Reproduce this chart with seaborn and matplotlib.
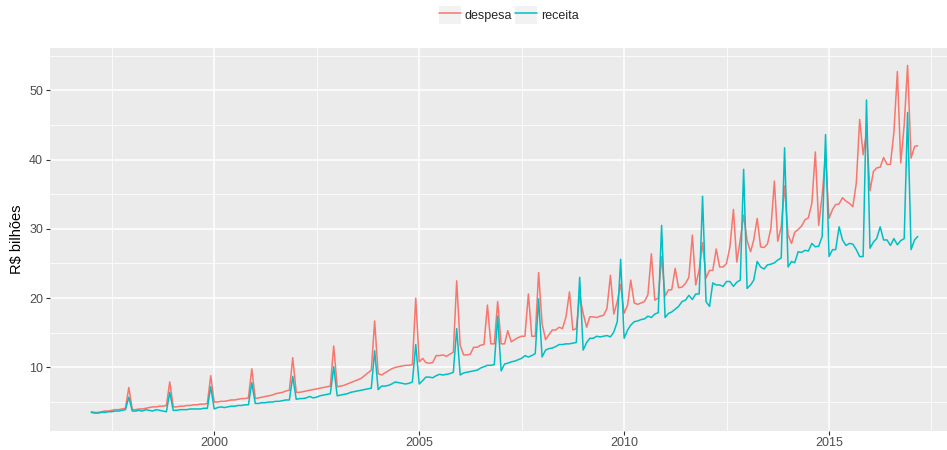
import pandas as pd
import matplotlib
matplotlib.use("Agg")
import matplotlib.pyplot as plt
import matplotlib.dates as mdates
from matplotlib.patches import Patch
from matplotlib.legend_handler import HandlerTuple
import seaborn as sns

# serie mensal, jan/1997 a mar/2017 (R$ bilhoes)
inicio = "1997-01-01"

despesa = [
    3.6, 3.5, 3.5, 3.6, 3.7, 3.7, 3.8, 3.9, 3.9, 4.0, 4.1, 7.1,        # 1997
    3.9, 3.9, 4.0, 4.0, 4.1, 4.2, 4.3, 4.3, 4.4, 4.4, 4.5, 7.9,        # 1998
    4.3, 4.3, 4.4, 4.4, 4.5, 4.5, 4.6, 4.6, 4.7, 4.7, 4.8, 8.8,        # 1999
    5.0, 5.0, 5.1, 5.1, 5.2, 5.3, 5.3, 5.4, 5.5, 5.5, 5.6, 9.8,        # 2000
    5.5, 5.6, 5.7, 5.8, 5.9, 6.0, 6.2, 6.3, 6.4, 6.6, 6.7, 11.4,       # 2001
    6.4, 6.4, 6.5, 6.6, 6.7, 6.8, 6.9, 7.0, 7.1, 7.2, 7.3, 13.1,       # 2002
    7.2, 7.3, 7.4, 7.6, 7.8, 8.0, 8.2, 8.4, 8.8, 9.2, 9.6, 16.7,       # 2003
    9.1, 8.9, 9.2, 9.5, 9.8, 10.0, 10.1, 10.2, 10.3, 10.3, 10.4, 20.0, # 2004
    10.8, 11.3, 10.7, 10.6, 10.7, 11.7, 11.7, 11.8, 11.6, 11.9, 12.2, 22.5,  # 2005
    13.2, 11.8, 11.8, 11.9, 12.9, 12.9, 13.2, 13.3, 19.0, 13.4, 13.4, 19.5,  # 2006
    13.4, 13.4, 15.3, 13.7, 14.0, 14.3, 14.5, 14.5, 20.6, 14.5, 14.5, 23.7,  # 2007
    16.3, 14.0, 14.7, 15.4, 15.4, 15.8, 15.6, 17.3, 20.9, 15.4, 15.6, 20.3,  # 2008
    17.8, 15.8, 17.3, 17.3, 17.2, 17.4, 17.5, 18.5, 23.3, 17.7, 19.5, 22.0,  # 2009
    17.8, 19.0, 22.6, 19.3, 19.1, 19.3, 19.5, 20.5, 26.4, 19.7, 20.0, 26.0,  # 2010
    20.3, 21.2, 21.2, 24.3, 21.5, 21.6, 22.1, 23.0, 29.1, 21.9, 24.1, 28.0,  # 2011
    22.9, 24.0, 24.0, 27.1, 24.5, 24.5, 25.0, 27.4, 32.8, 25.2, 28.4, 32.0,  # 2012
    28.3, 26.7, 28.4, 31.5, 27.4, 27.3, 27.8, 30.1, 36.9, 28.2, 30.3, 36.2,  # 2013
    29.1, 27.9, 29.5, 29.9, 30.4, 31.3, 31.6, 33.7, 41.1, 30.5, 34.9, 40.7,  # 2014
    31.5, 32.8, 33.5, 33.6, 34.5, 34.0, 33.7, 33.2, 36.6, 45.8, 40.7, 44.0,  # 2015
    35.5, 38.3, 38.8, 38.9, 40.3, 39.3, 39.3, 43.9, 52.7, 39.5, 45.0, 53.6,  # 2016
    40.2, 41.9, 42.0,                                                        # 2017
]

receita = [
    3.5, 3.4, 3.4, 3.5, 3.5, 3.6, 3.6, 3.7, 3.7, 3.8, 3.9, 5.7,        # 1997
    3.7, 3.7, 3.8, 3.7, 3.9, 3.8, 3.7, 3.9, 3.8, 3.7, 3.6, 6.4,        # 1998
    3.8, 3.8, 3.9, 3.9, 3.9, 4.0, 4.0, 4.0, 4.0, 4.1, 4.1, 7.2,        # 1999
    4.0, 4.2, 4.3, 4.2, 4.3, 4.4, 4.4, 4.5, 4.5, 4.6, 4.6, 7.8,        # 2000
    4.8, 4.8, 4.9, 4.9, 5.0, 5.0, 5.1, 5.1, 5.2, 5.3, 5.3, 8.7,        # 2001
    5.4, 5.5, 5.5, 5.6, 5.8, 5.6, 5.7, 5.9, 6.0, 6.1, 6.2, 10.1,       # 2002
    5.9, 6.0, 6.1, 6.2, 6.4, 6.5, 6.6, 6.7, 6.8, 6.9, 7.0, 12.4,       # 2003
    6.8, 7.3, 7.3, 7.4, 7.6, 7.9, 7.8, 7.7, 7.6, 7.7, 7.9, 13.3,       # 2004
    7.6, 8.1, 8.6, 8.6, 8.5, 8.8, 9.0, 8.9, 9.0, 9.1, 9.3, 15.6,       # 2005
    8.9, 9.2, 9.3, 9.4, 9.5, 9.6, 9.9, 10.1, 10.3, 10.3, 10.4, 17.4,   # 2006
    9.5, 10.5, 10.6, 10.8, 10.9, 11.1, 11.3, 11.7, 11.5, 11.7, 12.0, 19.9,   # 2007
    11.5, 12.5, 12.7, 12.8, 13.0, 13.3, 13.3, 13.4, 13.4, 13.5, 13.6, 23.0,  # 2008
    12.5, 13.6, 14.2, 14.2, 14.5, 14.4, 14.5, 14.6, 14.4, 15.1, 16.6, 25.6,  # 2009
    14.2, 15.4, 16.1, 16.6, 16.7, 16.9, 17.0, 17.4, 17.2, 17.7, 17.9, 30.5,  # 2010
    17.2, 17.8, 18.0, 18.4, 18.8, 19.5, 19.7, 20.4, 19.8, 20.6, 20.6, 34.7,  # 2011
    19.5, 18.8, 22.2, 21.9, 21.9, 21.7, 22.4, 22.4, 21.7, 22.3, 22.6, 38.6,  # 2012
    21.4, 21.9, 22.6, 25.3, 24.5, 24.2, 24.8, 24.9, 25.1, 25.5, 25.8, 41.7,  # 2013
    24.5, 25.3, 25.1, 26.7, 26.6, 26.9, 26.8, 27.9, 27.4, 27.5, 28.9, 43.6,  # 2014
    26.0, 27.0, 27.0, 30.3, 28.4, 27.6, 27.9, 27.8, 27.0, 26.0, 26.0, 48.6,  # 2015
    27.2, 28.1, 28.6, 30.3, 28.4, 28.4, 27.6, 28.6, 27.7, 28.3, 28.6, 46.8,  # 2016
    27.0, 28.4, 28.9,                                                        # 2017
]

series = ["despesa", "receita"]
cores = ["#F8766D", "#00BFC4"]
anos_major = [2000, 2005, 2010, 2015]
yticks = [10, 20, 30, 40, 50]

meses = pd.date_range(inicio, periods=len(despesa), freq="MS")
df = pd.DataFrame({"mes": meses, "despesa": despesa, "receita": receita})
df = df.melt(id_vars="mes", var_name="serie", value_name="valor")

sns.set_theme(style="darkgrid", rc={
    "axes.facecolor": "#EBEBEB",
    "grid.color": "white",
    "axes.edgecolor": "#EBEBEB",
})
plt.rcParams["font.family"] = ["Liberation Sans", "DejaVu Sans"]

W, H = 947, 450
fig = plt.figure(figsize=(W / 100, H / 100), dpi=100)
fig.patch.set_facecolor("white")
# painel vai alem da borda direita (a imagem original esta cortada)
left, right, top, bottom = 50, 959, 48, 430.5
ax = fig.add_axes([left / W, 1 - bottom / H, (right - left) / W, (bottom - top) / H])

sns.lineplot(data=df, x="mes", y="valor", hue="serie", hue_order=series,
             palette=cores, linewidth=1.1, ax=ax, legend=False)

# expansao de 5% como no ggplot
vmin, vmax = df["valor"].min(), df["valor"].max()
pad = (vmax - vmin) * 0.05
ax.set_ylim(vmin - pad, vmax + pad)
x0, x1 = mdates.date2num(meses[0]), mdates.date2num(meses[-1])
xpad = (x1 - x0) * 0.05
ax.set_xlim(x0 - xpad, x1 + xpad)

ax.set_yticks(yticks)
ax.set_yticks([y + 5 for y in [0] + yticks], minor=True)
ax.set_xticks([mdates.date2num(pd.Timestamp(f"{a}-01-01")) for a in anos_major])
ax.set_xticklabels([str(a) for a in anos_major])
minor_x = [mdates.date2num(pd.Timestamp(f"{a}-01-01")) - 365.25 * 2.5 for a in anos_major + [2020]]
ax.set_xticks(minor_x, minor=True)

ax.grid(which="major", color="white", linewidth=1.1)
ax.grid(which="minor", color="white", linewidth=0.55)
for s in ax.spines.values():
    s.set_visible(False)
ax.tick_params(which="major", length=3, width=0.8, color="#333333",
               labelcolor="#4D4D4D", labelsize=9, pad=2, bottom=True, left=True)
ax.tick_params(which="minor", length=0)

ax.set_xlabel("")
ax.set_ylabel("R$ bilhões", fontsize=10.5, color="black", labelpad=4)

# legenda no topo, com fundo cinza nas chaves (estilo ggplot)
handles = [(Patch(facecolor="#F2F2F2", edgecolor="none"),
            plt.Line2D([], [], color=c, linewidth=1.1)) for c in cores]
leg = fig.legend(handles, series, loc="center", bbox_to_anchor=(509 / W, 1 - 15 / H),
                 ncol=2, frameon=False, fontsize=9, handlelength=1.75, handleheight=1.75,
                 handletextpad=0.3, columnspacing=0.25, borderpad=0.2,
                 handler_map={tuple: HandlerTuple(ndivide=1, pad=0)})

fig.savefig("out.png", dpi=100)
